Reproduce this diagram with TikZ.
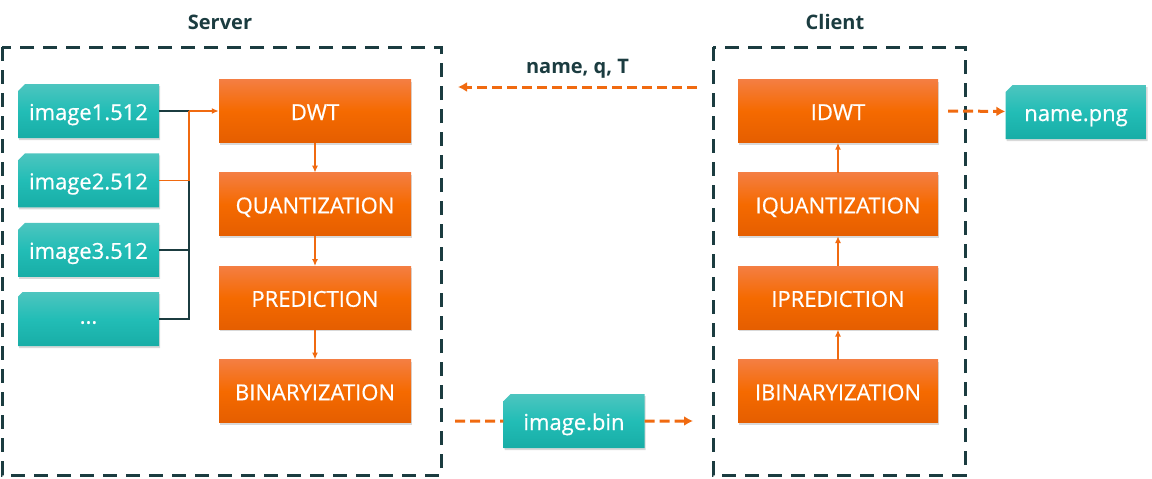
\documentclass[tikz,border=0pt]{standalone}
\usepackage{fontspec}
\setmainfont{Open Sans}
\newfontfamily\boxfont{Open Sans}[FakeBold=0.6,AutoFakeBold=0.6]
\usetikzlibrary{positioning,shapes.misc,shadows,arrows.meta}
\definecolor{frameC}{HTML}{1B3C40}
\definecolor{orTop}{HTML}{F47E42}
\definecolor{orMid}{HTML}{F56A00}
\definecolor{orBot}{HTML}{E55E00}
\definecolor{tlTop}{HTML}{4DC5BF}
\definecolor{tlMid}{HTML}{22BDB6}
\definecolor{tlBot}{HTML}{18ADA6}
\definecolor{lineOr}{HTML}{F06A10}
\begin{document}
\begin{tikzpicture}[x=1pt, y=-1pt, node distance=30pt,
    box/.style = {inner sep=0pt, text=white, text height=18pt, text depth=0pt,
      font=\boxfont\bfseries\fontsize{22}{26}\selectfont,
      drop shadow={opacity=.3, shadow xshift=1pt, shadow yshift=-2pt}},
    stage/.style = {box, minimum width=192pt, minimum height=63pt,
      top color=orTop, bottom color=orBot, middle color=orMid},
    istage/.style = {stage, minimum width=200pt},
    file/.style = {box, chamfered rectangle, chamfered rectangle corners=north west,
      chamfered rectangle xsep=7pt, chamfered rectangle ysep=0pt,
      minimum width=141pt, minimum height=54pt,
      top color=tlTop, bottom color=tlBot, middle color=tlMid},
    frame/.style = {draw=frameC, line width=3pt, dash pattern=on 14pt off 9pt},
    title/.style = {text=frameC, font=\bfseries\fontsize{20}{24}\selectfont},
    wire/.style = {draw=frameC, line width=1.5pt},
    orwire/.style = {draw=lineOr, line width=1.5pt},
    go/.style = {orwire, -{Latex[length=7pt,width=6pt]}},
    send/.style = {draw=lineOr, line width=3pt, dash pattern=on 10pt off 5pt,
      -{Latex[length=9pt,width=10pt]}}]
    \useasboundingbox (0,0) rectangle (1152,479);
    %Server
    \node[title] (st) at (220,22) {Server};
    \draw[frame] (2,47) rectangle (441,475);
    \node[file] (img1) at (88.5,111) {image1.512};
    \node[file] (img2) [below=15pt of img1] {image2.512};
    \node[file] (img3) [below=15pt of img2] {image3.512};
    \node[file, text height=9pt] (dots) [below=15pt of img3] {...};
    \node[stage] (dwt) at (315,111) {DWT};
    \node[stage] (quant) [below=30pt of dwt] {QUANTIZATION};
    \node[stage] (pred) [below=30pt of quant] {PREDICTION};
    \node[stage] (bina) [below=30pt of pred] {BINARYIZATION};
    \coordinate (bus) at (189,111);
    \draw[wire] (img1.east) -- (bus);
    \draw[wire] (img3.east) -- (img3.east -| bus);
    \draw[wire] (dots.east) -| (bus |- img2.east);
    \draw[orwire] (img2.east) -| (bus);
    \draw[go] (bus) -- (dwt.west);
    \draw[go] (dwt) -- (quant);
    \draw[go] (quant) -- (pred);
    \draw[go] (pred) -- (bina);
    %Client
    \node[title] (ct) at (835,22) {Client};
    \draw[frame] (713,47) rectangle (965,475);
    \node[istage] (idwt) at (838,111) {IDWT};
    \node[istage] (iquant) [below=30pt of idwt] {IQUANTIZATION};
    \node[istage] (ipred) [below=30pt of iquant] {IPREDICTION};
    \node[istage] (ibina) [below=30pt of ipred] {IBINARYIZATION};
    \draw[go] (ibina) -- (ipred);
    \draw[go] (ipred) -- (iquant);
    \draw[go] (iquant) -- (idwt);
    \node[file] (png) at (1076,112) {name.png};
    \node[file] (bin) at (574,421) {image.bin};
    %Transfer
    \coordinate (qsrc) at (697,87);
    \coordinate (qdst) at (458,87);
    \coordinate (binout) at (455,421);
    \coordinate (binin) at (693,421);
    \draw[send] (qsrc) -- node[title, above=4pt] {name, q, T} (qdst);
    \draw[send, -] (binout) -- (bin);
    \draw[send] (bin) -- (binin);
    \draw[send] ([xshift=10pt]idwt.east) -- (png);
\end{tikzpicture}
\end{document}
